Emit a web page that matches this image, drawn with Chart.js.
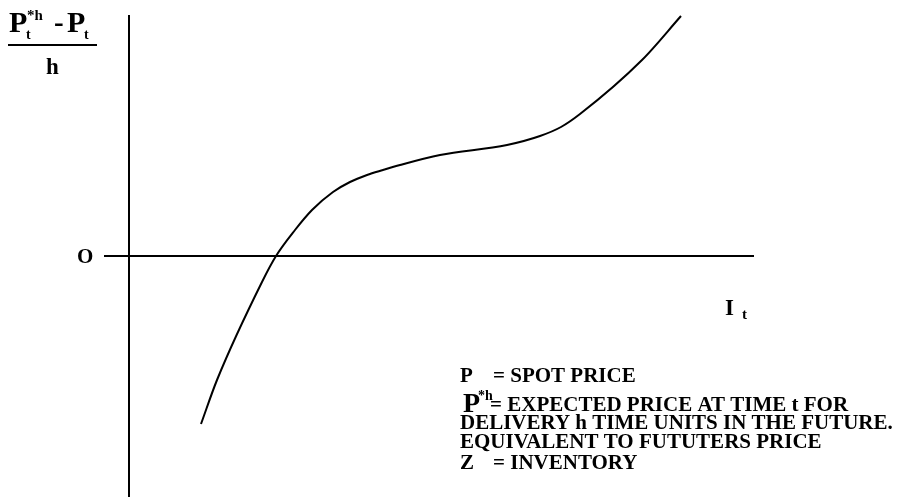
<!DOCTYPE html>
<html>
<head>
<meta charset="utf-8">
<script src="https://cdn.jsdelivr.net/npm/chart.js@4.4.1/dist/chart.umd.min.js"></script>
<style>
  html, body { margin: 0; padding: 0; background: #fff; }
  #wrap { width: 901px; height: 498px; }
</style>
</head>
<body>
<div id="wrap"><canvas id="grafico" width="901" height="498"></canvas></div>
<script>
// Curva (inventário I_t vs. (P*h - P)/h), unidades arbitrárias
const curveX = [7.2, 8.8, 13.3, 14.7, 16.6, 18.3, 20.4, 22.1, 23.8, 25.4, 27.1, 31.1, 37.8, 41.1, 43.2, 45.1, 51.3, 55.2];
const curveY = [-16.8, -12.4, -2.6, 0, 2.6, 4.6, 6.4, 7.4, 8.1, 8.6, 9.1, 10.1, 11.1, 12.0, 12.9, 14.2, 19.6, 24.0];

// Extensão dos eixos
const xAxisX = [-2.5, 62.5];
const xAxisY = [0, 0];
const yAxisX = [0, 0];
const yAxisY = [24.1, -24.1];

// Textos da legenda
const legendLines = [
    'P',
    '= SPOT PRICE',
    'P',
    '*h',
    '= EXPECTED PRICE AT TIME t FOR',
    'DELIVERY h TIME UNITS IN THE FUTURE.',
    'EQUIVALENT TO FUTUTERS PRICE',
    'Z',
    '= INVENTORY'
];

const toPoints = (xs, ys) => xs.map((x, i) => ({ x: x, y: ys[i] }));

// texto em negrito serifado (Times)
function txt(ctx, s, x, y, size, w) {
    ctx.font = `bold ${size}px "Liberation Serif", "Times New Roman", serif`;
    const m = ctx.measureText(s).width;
    ctx.save();
    ctx.translate(x, y);
    if (w) ctx.scale(w / m, 1);
    ctx.fillText(s, 0, 0);
    ctx.restore();
}

const textos = {
    id: 'textos',
    afterDraw(chart) {
        const ctx = chart.ctx;
        const ys = chart.scales.y;
        ctx.save();
        ctx.fillStyle = '#000';
        ctx.textBaseline = 'alphabetic';

        // fração do eixo vertical
        txt(ctx, 'P', 9, 32, 30);
        txt(ctx, 't', 26, 39, 14);
        txt(ctx, '*h', 27, 20, 15);
        txt(ctx, '-', 54, 32, 29);
        txt(ctx, 'P', 67, 32, 30);
        txt(ctx, 't', 84, 39, 14);
        ctx.fillRect(8, 44, 89, 2);
        txt(ctx, 'h', 46, 74, 23);

        // origem e eixo horizontal
        const y0 = ys.getPixelForValue(0);
        txt(ctx, 'O', 77, y0 + 7, 21);
        txt(ctx, 'I', 725, 315, 23);
        txt(ctx, 't', 742, 319, 15);

        // legenda
        txt(ctx, legendLines[0], 460, 382, 21);
        txt(ctx, legendLines[1], 493, 382, 21);
        txt(ctx, legendLines[2], 463, 412, 28);
        txt(ctx, legendLines[3], 478, 400, 14);
        txt(ctx, legendLines[4], 490, 411, 21);
        txt(ctx, legendLines[5], 460, 429, 21);
        txt(ctx, legendLines[6], 460, 448, 21);
        txt(ctx, legendLines[7], 460, 469, 21);
        txt(ctx, legendLines[8], 493, 469, 21);
        ctx.restore();
    }
};

new Chart(document.getElementById('grafico'), {
    type: 'scatter',
    data: {
        datasets: [
            {
                data: toPoints(curveX, curveY),
                showLine: true,
                borderColor: '#000',
                borderWidth: 2,
                pointRadius: 0,
                cubicInterpolationMode: 'monotone'
            },
            {
                data: toPoints(xAxisX, xAxisY),
                showLine: true,
                borderColor: '#000',
                borderWidth: 2,
                pointRadius: 0
            },
            {
                data: toPoints(yAxisX, yAxisY),
                showLine: true,
                borderColor: '#000',
                borderWidth: 2,
                pointRadius: 0
            }
        ]
    },
    options: {
        responsive: false,
        animation: false,
        devicePixelRatio: 1,
        layout: { padding: 0 },
        clip: false,
        scales: {
            x: { type: 'linear', min: -12.9, max: 77.2, display: false },
            y: { type: 'linear', min: -24.2, max: 25.6, display: false }
        },
        plugins: {
            legend: { display: false },
            tooltip: { enabled: false }
        }
    },
    plugins: [textos]
});
</script>
</body>
</html>
